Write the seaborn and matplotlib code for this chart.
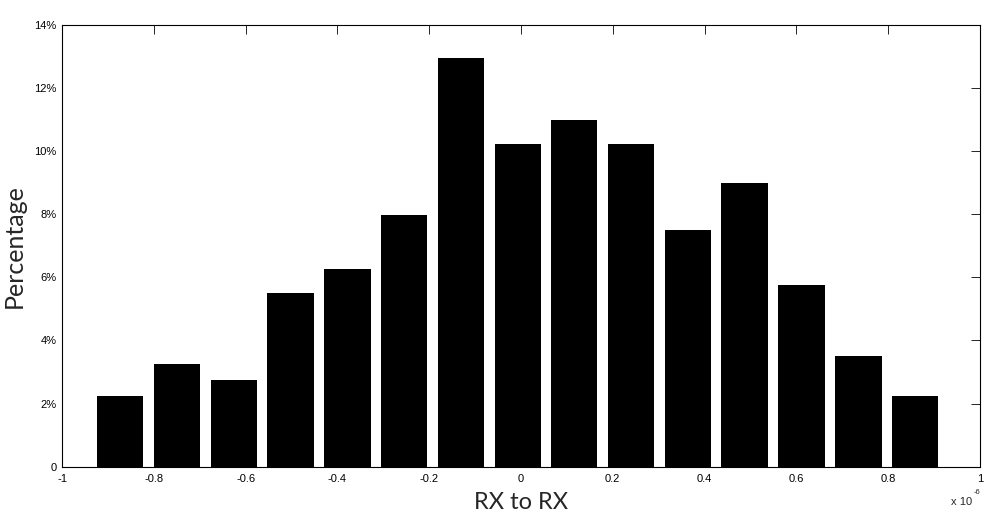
import matplotlib
matplotlib.use("Agg")
import matplotlib.pyplot as plt
import seaborn as sns
import pandas as pd

# Bin centres (x 1e-6) and percentage values
bin_centers = [-0.873, -0.749, -0.626, -0.502, -0.378, -0.255, -0.131, -0.007,
               0.116, 0.240, 0.364, 0.487, 0.611, 0.735, 0.858]
percentages = [2.25, 3.24, 2.75, 5.49, 6.25, 7.98, 12.95, 10.23,
               10.98, 10.23, 7.50, 8.99, 5.74, 3.50, 2.25]
x_ticks = [-1, -0.8, -0.6, -0.4, -0.2, 0, 0.2, 0.4, 0.6, 0.8, 1]
x_tick_labels = ["-1", "-0.8", "-0.6", "-0.4", "-0.2", "0", "0.2", "0.4", "0.6", "0.8", "1"]
y_ticks = [0, 2, 4, 6, 8, 10, 12, 14]
y_tick_labels = ["0", "2%", "4%", "6%", "8%", "10%", "12%", "14%"]

df = pd.DataFrame({"x": bin_centers, "pct": percentages})

sns.set_style("white")
plt.rcParams["font.family"] = ["Liberation Sans", "DejaVu Sans"]

fig = plt.figure(figsize=(10.08, 5.31), dpi=100)
ax = fig.add_axes([62 / 1008, 1 - 466.7 / 531, 918 / 1008, 442 / 531])

sns.barplot(data=df, x="x", y="pct", native_scale=True, color="black",
            saturation=1, width=0.82, edgecolor="black", linewidth=0, ax=ax)

ax.set_xlim(-1, 1)
ax.set_ylim(0, 14)
ax.set_xticks(x_ticks)
ax.set_xticklabels(x_tick_labels)
ax.set_yticks(y_ticks)
ax.set_yticklabels(y_tick_labels)

for s in ax.spines.values():
    s.set_visible(True)
    s.set_color("black")
    s.set_linewidth(0.8)

ax.tick_params(direction="in", top=True, right=True, length=6.5, width=0.6,
               labelsize=8, colors="black", pad=4)
ax.tick_params(axis="x", pad=5)

ax.set_xlabel("RX to RX", fontsize=17, family=["Lato", "DejaVu Sans"], labelpad=6)
ax.set_ylabel("Percentage", fontsize=18, family=["Lato", "DejaVu Sans"], labelpad=6)

ax.text(0.9915, -0.087, "x 10", transform=ax.transAxes, ha="right",
        va="baseline", fontsize=8)
ax.text(1.0, -0.062, "-6", transform=ax.transAxes, ha="right",
        va="baseline", fontsize=5.5)

fig.savefig("out.png", dpi=100, facecolor="white")
